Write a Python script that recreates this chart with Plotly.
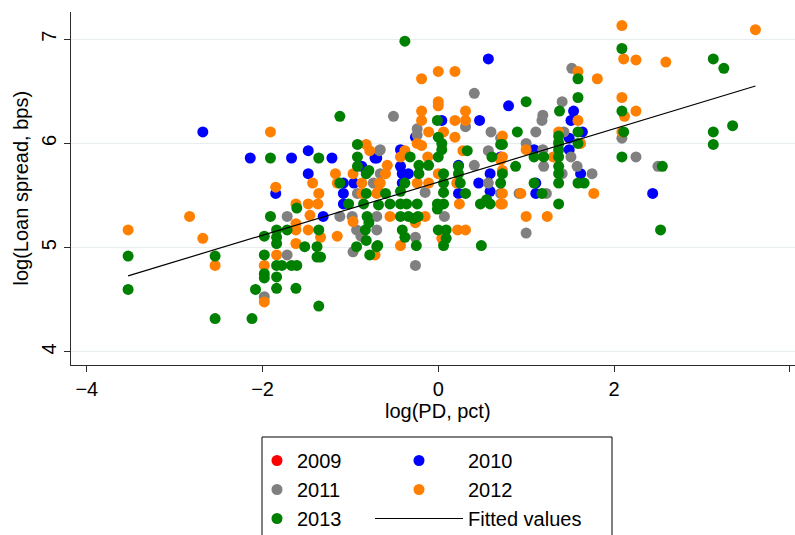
import plotly.graph_objects as go

# log(PD, pct) and log(Loan spread, bps) by loan year
pd_2009 = []
spread_2009 = []

pd_2010 = [-2.68, -2.14, -1.67, -1.48, -1.21, -1.48, -1.85, -0.72, -0.87, -1.08,
           -0.96, -1.08, -1.08, -1.31, 0.57, 0.04, 0.47, -0.26, -0.43, -0.70,
           0.71, -0.43, 0.23, -0.41, -0.34, 0.59, -0.41, 0.46, 0.59, 0.23,
           0.80, 1.54, 1.51, 1.64, 1.49, 1.09, 1.49, 1.62, 1.11, 1.11, 2.44]
spread_2010 = [6.11, 5.86, 5.86, 5.93, 5.86, 5.71, 5.52, 5.86, 5.78, 5.62,
               5.62, 5.52, 5.42, 5.30, 6.81, 6.22, 6.22, 6.06, 5.94, 5.86,
               5.87, 5.78, 5.79, 5.71, 5.71, 5.71, 5.62, 5.62, 5.54, 5.52,
               6.36, 6.31, 6.22, 6.11, 6.05, 5.94, 5.94, 5.71, 5.62, 5.52, 5.52]

pd_2011 = [-0.67, -0.74, -0.92, -1.72, -1.12, -0.98, -0.93, -0.97, -1.72, -1.98,
           0.41, -0.51, -0.24, 0.31, 0.60, -0.24, 0.71, -0.66, 0.57, 0.41,
           -0.66, 0.57, -0.15, 0.71, -0.70, 0.07, -0.70, -0.26, -0.26, 1.52,
           1.41, 1.19, 1.18, 1.11, 1.43, 2.09, 1.00, 1.19, 1.51, 1.20,
           1.58, 1.41, 1.75, 0.92, 1.23, 1.00, 2.25, 2.50, -0.88]
spread_2011 = [5.93, 5.62, 5.52, 5.30, 5.30, 5.30, 5.17, 4.96, 4.93, 4.53,
               6.48, 6.26, 6.14, 6.16, 6.11, 6.08, 6.05, 5.94, 5.93, 5.79,
               5.71, 5.62, 5.53, 5.52, 5.30, 5.30, 5.17, 5.10, 4.83, 6.72,
               6.40, 6.27, 6.22, 6.11, 6.11, 6.05, 6.00, 5.94, 5.87, 5.78,
               5.78, 5.71, 5.71, 5.52, 5.52, 5.14, 5.87, 5.78, 5.11]

pd_2012 = [-2.83, -3.53, -2.68, -2.54, -1.91, -1.43, -1.85, -1.36, -1.48, -1.37,
           -1.62, -0.82, -0.78, -1.17, -1.15, -0.97, -0.87, -0.67, -0.87, -0.70,
           -1.46, -1.62, -1.62, -1.48, -1.34, -1.62, -1.84, -1.98, -1.98, -0.97,
           -1.15, 0.00, 0.19, -0.19, 0.00, 0.00, -0.19, 0.31, -0.19, 0.19,
           0.31, -0.11, 0.06, -0.24, -0.19, 0.19, -0.38, 0.28, -0.43, -0.12,
           0.71, -0.58, -0.60, 0.00, 0.73, -0.66, -0.24, -0.11, 0.21, -0.68,
           0.24, 0.71, -0.55, -0.15, -0.26, 0.22, 0.31, 0.04, -0.43, -0.72,
           2.11, 1.59, 1.81, 2.09, 2.12, 1.59, 1.37, 2.09, 0.73, 1.37,
           1.62, 1.00, 0.73, 1.31, 0.94, 1.77, 0.73, 0.73, 1.00, 1.24,
           2.09, 3.61, 2.25, 2.59, 2.25]
spread_2012 = [5.30, 5.17, 5.09, 4.83, 6.11, 5.62, 5.58, 5.52, 5.42, 5.42,
               5.42, 5.99, 5.93, 5.71, 5.62, 5.71, 5.62, 5.62, 5.52, 5.52,
               5.31, 5.23, 5.17, 5.17, 5.10, 5.04, 4.93, 4.83, 4.48, 5.25,
               5.11, 6.69, 6.69, 6.62, 6.40, 6.36, 6.31, 6.31, 6.22, 6.22,
               6.22, 6.11, 6.11, 6.00, 5.98, 6.06, 5.93, 5.93, 5.87, 5.87,
               5.84, 5.79, 5.71, 5.71, 5.74, 5.62, 5.62, 5.62, 5.62, 5.54,
               5.42, 5.42, 5.30, 5.30, 5.24, 5.17, 5.17, 5.09, 5.02, 4.93,
               6.81, 6.69, 6.62, 6.44, 6.26, 6.22, 6.11, 6.11, 6.07, 6.02,
               6.00, 5.94, 5.87, 5.87, 5.52, 5.52, 5.52, 5.42, 5.30, 5.30,
               7.13, 7.09, 6.80, 6.78, 6.31]

pd_2013 = [-3.53, -2.54, -3.53, -2.54, -2.12, -2.08, -1.12, -1.91, -1.36, -1.61,
           -0.92, -0.92, -0.92, -0.79, -0.82, -1.12, -0.82, -1.02, -0.85, -1.91,
           -1.84, -1.72, -1.36, -1.98, -1.84, -1.84, -1.52, -1.38, -1.98, -1.38,
           -1.34, -1.84, -1.78, -1.67, -1.61, -1.98, -1.98, -1.84, -1.84, -1.62,
           -1.36, -0.81, -0.79, -0.83, -0.82, -0.93, -0.70, -0.78, -0.38, -0.01,
           0.00, 0.04, 0.71, 0.04, 0.33, 0.61, -0.32, 0.00, -0.22, -0.11,
           0.23, -0.22, 0.06, 0.23, -0.38, 0.06, 0.25, 0.71, -0.60, -0.43,
           0.06, 0.31, -0.68, -0.55, -0.43, -0.36, -0.24, -0.01, 0.06, -0.01,
           0.48, 0.55, 0.59, -0.43, -0.34, -0.28, -0.23, -0.41, -0.38, 0.00,
           0.09, 0.09, -0.69, -0.25, 0.06, 0.49, 2.09, 1.59, 1.59, 1.00,
           1.38, 2.09, 0.90, 1.59, 2.11, 0.73, 1.37, 1.37, 1.59, 1.37,
           1.09, 1.20, 1.37, 2.09, 0.88, 1.37, 0.73, 1.37, 1.09, 1.37,
           1.59, 1.66, 1.18, 1.37, 3.13, 3.25, 3.13, 3.35, 3.13, 2.55, 2.53]
spread_2013 = [4.92, 4.92, 4.60, 4.32, 4.32, 4.60, 6.26, 5.86, 5.86, 5.38,
               5.99, 5.87, 5.78, 5.74, 5.71, 5.62, 5.52, 5.42, 5.42, 5.30,
               5.17, 5.17, 5.17, 5.11, 5.10, 5.04, 5.01, 5.01, 4.93, 4.91,
               4.91, 4.83, 4.83, 4.83, 4.83, 4.75, 4.71, 4.72, 4.61, 4.61,
               4.44, 5.30, 5.24, 5.17, 5.07, 5.01, 5.01, 4.93, 6.98, 6.22,
               6.06, 6.00, 5.99, 5.94, 5.93, 5.87, 5.87, 5.87, 5.79, 5.79,
               5.78, 5.71, 5.71, 5.71, 5.62, 5.62, 5.62, 5.62, 5.52, 5.54,
               5.53, 5.52, 5.41, 5.42, 5.42, 5.42, 5.42, 5.42, 5.42, 5.37,
               5.42, 5.46, 5.42, 5.30, 5.30, 5.28, 5.30, 5.17, 5.10, 5.17,
               5.17, 5.09, 5.02, 5.02, 5.02, 5.02, 6.91, 6.62, 6.44, 6.40,
               6.31, 6.31, 6.11, 6.11, 6.11, 5.99, 6.07, 6.00, 6.00, 5.94,
               5.87, 5.87, 5.87, 5.87, 5.78, 5.78, 5.71, 5.71, 5.62, 5.62,
               5.62, 5.62, 5.52, 5.42, 6.81, 6.72, 6.11, 6.17, 5.99, 5.78, 5.17]

# OLS fitted values at the ends of the PD range
fit_pd = [-3.53, 3.61]
fit_spread = [4.73, 6.55]

x_title = "log(PD, pct)"
y_title = "log(Loan spread, bps)"

FONT = "Liberation Sans, Arial, sans-serif"
AXIS_COLOR = "#2b2b2b"
GRID_COLOR = "#e6eef0"

years = [
    ("2009", pd_2009, spread_2009, "#ff0000", "legend"),
    ("2010", pd_2010, spread_2010, "#0000ff", "legend2"),
    ("2011", pd_2011, spread_2011, "#808080", "legend"),
    ("2012", pd_2012, spread_2012, "#ff7f00", "legend2"),
    ("2013", pd_2013, spread_2013, "#008000", "legend"),
]

fig = go.Figure()
for name, xs, ys, color, leg in years:
    fig.add_trace(go.Scatter(
        x=xs if xs else [None], y=ys if ys else [None],
        mode="markers", name=name, legend=leg, legendgroup=name,
        marker=dict(color=color, size=11, line=dict(width=0)),
    ))

fig.add_trace(go.Scatter(
    x=fit_pd, y=fit_spread, mode="lines", name="Fitted values",
    legend="legend2", legendgroup="fit",
    line=dict(color="black", width=1.2),
))

legend_common = dict(
    xref="container", yref="container", xanchor="left", yanchor="top",
    orientation="v", bgcolor="rgba(0,0,0,0)", borderwidth=0,
    font=dict(family=FONT, size=20, color="black"),
    tracegroupgap=7, traceorder="normal",
)

# plot area: 71..795 px wide, 12..365 px tall
PLOT_L, PLOT_R, PLOT_T, PLOT_B = 71, 795, 12, 365
PW, PH = PLOT_R - PLOT_L, PLOT_B - PLOT_T

fig.update_layout(
    width=795, height=535,
    margin=dict(l=PLOT_L, r=795 - PLOT_R, t=PLOT_T, b=535 - PLOT_B, autoexpand=False),
    plot_bgcolor="white", paper_bgcolor="white",
    font=dict(family=FONT, size=20, color="black"),
    showlegend=True,
    legend=dict(x=257 / 795, y=1 - 441 / 535, itemwidth=30, **legend_common),
    legend2=dict(x=370 / 795, y=1 - 441 / 535, itemwidth=88, **legend_common),
    xaxis=dict(
        range=[-4.18, 4.06], tickvals=[-4, -2, 0, 2, 4],
        showgrid=False, zeroline=False,
        showline=True, linecolor=AXIS_COLOR, linewidth=1,
        ticks="outside", ticklen=6, tickcolor=AXIS_COLOR,
        tickfont=dict(family=FONT, size=20),
    ),
    yaxis=dict(
        range=[3.875, 7.26], tickvals=[4, 5, 6, 7],
        showgrid=True, gridcolor=GRID_COLOR, gridwidth=1, zeroline=False,
        showline=True, linecolor=AXIS_COLOR, linewidth=1,
        ticks="outside", ticklen=6, tickcolor=AXIS_COLOR, tickangle=-90,
        tickfont=dict(family=FONT, size=20),
    ),
    annotations=[
        dict(text=x_title, xref="paper", yref="paper",
             x=(438 - PLOT_L) / PW, y=(PLOT_B - 411) / PH,
             xanchor="center", yanchor="middle", showarrow=False,
             font=dict(family=FONT, size=20, color="black")),
        dict(text=y_title, xref="paper", yref="paper",
             x=(20 - PLOT_L) / PW, y=0.5, textangle=-90,
             xanchor="center", yanchor="middle", showarrow=False,
             font=dict(family=FONT, size=20, color="black")),
    ],
    shapes=[dict(
        type="rect", xref="paper", yref="paper",
        x0=(262 - PLOT_L) / PW, x1=(612 - PLOT_L) / PW,
        y0=(PLOT_B - 437) / PH, y1=(PLOT_B - 545) / PH,
        line=dict(color="black", width=1), fillcolor="rgba(0,0,0,0)",
    )],
)

fig.write_html("out.html")
